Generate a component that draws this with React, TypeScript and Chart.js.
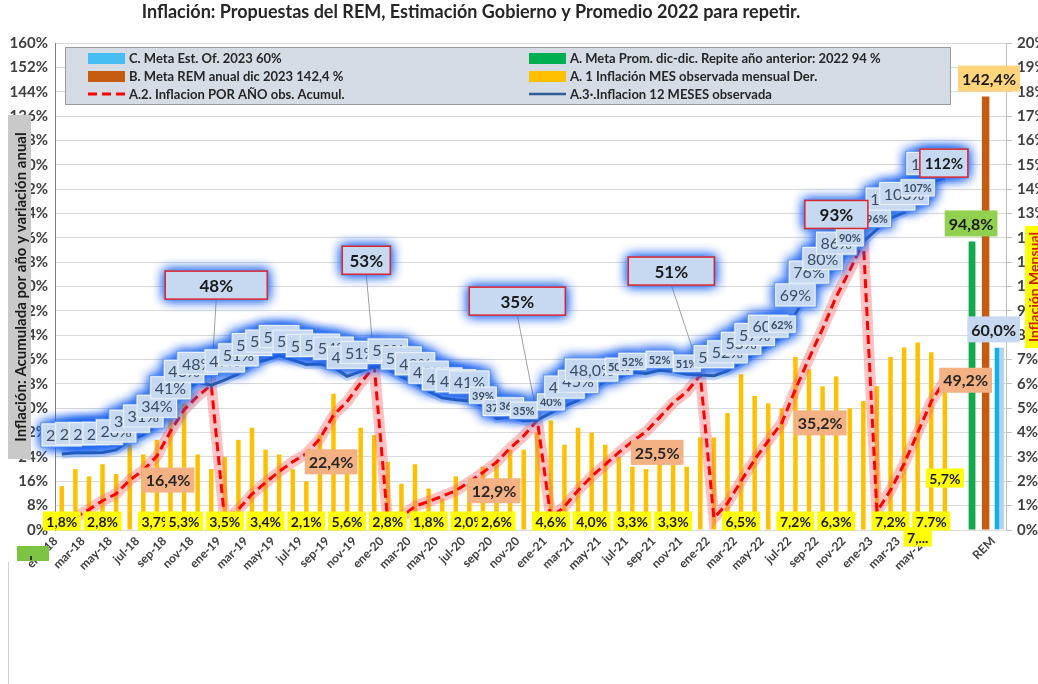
import React, { useEffect, useRef } from 'react';
import { Chart, registerables } from 'chart.js';

Chart.register(...registerables);

const FONT = 'Lato, "Open Sans", sans-serif';

// ---- categories ----
const monthAbbr = ['ene', 'feb', 'mar', 'abr', 'may', 'jun', 'jul', 'ago', 'sep', 'oct', 'nov', 'dic'];
const yearSuffix = ['18', '19', '20', '21', '22', '23'];
const lastMonth = 'jun-23';
const extraCategories = ['', '', '', 'REM'];

// ---- series ----
// A.1 monthly inflation (right axis)
const mensual = [
  1.8, 2.5, 2.2, 2.7, 2.3, 3.5, 3.1, 3.7, 6.5, 5.2, 3.1, 2.5,
  3.0, 3.7, 4.2, 3.3, 3.1, 2.5, 2.0, 3.9, 5.6, 3.3, 4.2, 3.9,
  2.8, 1.9, 2.7, 1.7, 1.3, 2.2, 1.9, 2.6, 2.8, 3.3, 3.3, 4.0,
  4.5, 3.5, 4.2, 4.0, 3.5, 3.0, 2.6, 2.5, 3.5, 3.5, 2.6, 3.8,
  3.8, 4.8, 6.4, 5.5, 5.2, 5.0, 7.1, 6.6, 5.9, 6.3, 5.0, 5.3,
  5.9, 7.1, 7.5, 7.7, 7.3, 5.7,
];
// A.2 accumulated in the year
const acumulado = [
  1.8, 4.2, 6.7, 9.6, 11.9, 16.4, 19.6, 24.3, 32.4, 39.5, 44.0, 47.6,
  2.9, 6.8, 11.8, 15.6, 19.2, 22.4, 25.1, 30.0, 37.7, 42.2, 48.3, 53.8,
  2.3, 4.3, 7.8, 9.4, 11.1, 12.9, 15.8, 18.9, 22.3, 26.9, 30.9, 36.1,
  4.0, 7.7, 13.0, 17.6, 21.5, 25.5, 29.1, 32.3, 37.0, 41.8, 45.4, 50.9,
  3.9, 8.8, 16.1, 23.1, 29.3, 35.2, 46.2, 56.4, 66.1, 76.6, 85.3, 94.8,
  6.0, 13.1, 21.7, 32.0, 42.2, 49.2,
];
// A.3 12-month inflation
const interanual = [
  25.0, 25.4, 25.4, 25.5, 26.3, 29.5, 31.2, 34.4, 40.5, 45.9, 48.5, 47.6,
  49.3, 51.3, 54.7, 55.8, 57.3, 55.8, 54.4, 54.5, 53.5, 50.5, 52.1, 53.8,
  52.9, 50.3, 48.4, 45.6, 43.4, 42.8, 42.4, 40.7, 36.6, 37.2, 35.8, 36.1,
  38.5, 40.7, 42.6, 46.3, 48.8, 50.2, 51.8, 51.4, 52.5, 52.1, 51.2, 50.9,
  50.7, 52.3, 55.1, 58.0, 60.7, 64.0, 71.0, 78.5, 83.0, 88.0, 92.4, 94.8,
  98.8, 102.5, 104.3, 108.8, 114.2, 115.6,
];
const metaPromedio = 94.8;
const metaREM = 142.4;
const metaGobierno = 60.0;

// ---- label texts ----
const blueLabels = [
  '25%', '25%', '25%', '26%', '26%', '30%', '31%', '34%', '41%', '46%', '48%', '',
  '49%', '51%', '55%', '56%', '57%', '56%', '54%', '55%', '54%', '49%', '51%', '',
  '53%', '50%', '48%', '45%', '43%', '43%', '41%', '39%', '37%', '36%', '35%', '',
  '40%', '41%', '45%', '48,0%', '', '50%', '52%', '', '52%', '', '51%', '',
  '50%', '52%', '55%', '57%', '60%', '62%', '69%', '76%', '80%', '86%', '90%', '',
  '96%', '101%', '103%', '107%', '111%', '',
];
const smallBlueLabelIdx = [31, 32, 33, 34, 36, 41, 42, 44, 46, 53, 58, 60, 63];
const calloutIdx = [11, 23, 35, 47, 59, 65];
const calloutText = ['48%', '53%', '35%', '51%', '93%', '112%'];
const accumLabelIdx = [5, 17, 29, 41, 53, 65];
const monthlyLabelIdx = [0, 3, 7, 9, 12, 15, 18, 21, 24, 27, 30, 32, 36, 39, 42, 45, 50, 54, 57, 61, 64];
const monthlyLabelText = ['1,8%', '2,8%', '3,7%', '5,3%', '3,5%', '3,4%', '2,1%', '5,6%', '2,8%', '1,8%', '2,0%', '2,6%', '4,6%', '4,0%', '3,3%', '3,3%', '6,5%', '7,2%', '6,3%', '7,2%', '7,7%'];

const titleText = 'Inflación: Propuestas del REM, Estimación Gobierno y Promedio 2022 para repetir.';
const leftTitle = 'Inflación: Acumulada por año y variación anual';
const rightTitle = 'Inflación Mensual';
const legendLeft = [
  { kind: 'rect', color: '#45bdf2', text: 'C. Meta Est. Of. 2023 60%' },
  { kind: 'rect', color: '#c55a11', text: 'B. Meta REM anual dic 2023 142,4 %' },
  { kind: 'dash', color: '#ff0000', text: 'A.2. Inflacion POR AÑO obs. Acumul.' },
];
const legendRight = [
  { kind: 'rect', color: '#00b050', text: 'A. Meta Prom. dic-dic. Repite año anterior: 2022 94 %' },
  { kind: 'rect', color: '#ffc000', text: 'A. 1 Inflación MES observada mensual Der.' },
  { kind: 'line', color: '#2e5c99', text: 'A.3·.Inflacion 12 MESES observada' },
];

// ---- build categories / padded data ----
const monthLabels: string[] = [];
yearSuffix.forEach((y) => monthAbbr.forEach((m) => monthLabels.push(`${m}-${y}`)));
const months = monthLabels.slice(0, monthLabels.indexOf(lastMonth) + 1);
const categories = [...months, ...extraCategories];
const pad = (arr: number[]) => categories.map((_, i) => (i < arr.length ? arr[i] : null));
const single = (slot: number, v: number) => categories.map((_, i) => (i === slot ? v : null));
const slotPromedio = months.length + 1;
const slotREM = months.length + 2;
const slotGobierno = months.length + 3;

const fmt = (v: number) => v.toFixed(1).replace('.', ',') + '%';

function fillBox(ctx: CanvasRenderingContext2D, cx: number, cy: number, w: number, h: number, fill: string) {
  ctx.fillStyle = fill;
  ctx.fillRect(cx - w / 2, cy - h / 2, w, h);
}

const overlayPlugin = {
  id: 'overlay',
  afterDatasetsDraw(chart: any) {
    const { ctx, scales } = chart;
    const x = scales.x, y = scales.y, y2 = scales.y2;
    const px = (i: number) => x.getPixelForValue(i);
    const py = (v: number) => y.getPixelForValue(v);
    ctx.save();
    ctx.textAlign = 'center';
    ctx.textBaseline = 'middle';

    // accumulated labels (salmon, right of point)
    ctx.font = `bold 16px ${FONT}`;
    accumLabelIdx.forEach((i) => {
      const t = fmt(acumulado[i]);
      const w = ctx.measureText(t).width + 8;
      const h = 25;
      let left = px(i) + 12;
      if (left + w > 992) left = 992 - w;
      const cy = py(acumulado[i]);
      ctx.fillStyle = '#f4b183';
      ctx.fillRect(left, cy - h / 2, w, h);
      ctx.fillStyle = '#262626';
      ctx.fillText(t, left + w / 2, cy + 1);
    });

    // callout geometry
    const calloutStyle = [
      { dx: 5, dy: -100, w: 102, f: 17 },
      { dx: -8, dy: -106, w: 48, f: 17 },
      { dx: -20, dy: -119, w: 96, f: 17 },
      { dx: -29, dy: -104, w: 86, f: 17 },
      { dx: -27, dy: -27, w: 63, f: 17 },
      { dx: -1, dy: -15, w: 48, f: 15 },
    ];
    const callouts = calloutIdx.map((i, k) => {
      const s = calloutStyle[k];
      const ptx = px(i), pty = py(interanual[i]);
      return { ptx, pty, cx: ptx + s.dx, cy: pty + s.dy, w: s.w, h: 28, f: s.f, t: calloutText[k], lead: s.dy < -50 };
    });
    // leader lines
    ctx.strokeStyle = '#a0a0a0';
    ctx.lineWidth = 1;
    callouts.forEach((c) => {
      if (!c.lead) return;
      ctx.beginPath();
      ctx.moveTo(c.cx, c.cy + c.h / 2);
      ctx.lineTo(c.ptx, c.pty - 3);
      ctx.stroke();
    });

    // blue labels
    const labels = blueLabels
      .map((t, i) => {
        if (!t) return null;
        const small = smallBlueLabelIdx.includes(i);
        const font = small ? `bold 11px ${FONT}` : `16px ${FONT}`;
        ctx.font = font;
        const w = ctx.measureText(t).width + (small ? 6 : 9);
        const h = small ? 17 : 23;
        return { t, font, w, h, cx: px(i), cy: py(interanual[i]) - (small ? 11 : 19) };
      })
      .filter(Boolean) as any[];
    // glow pass
    ctx.save();
    ctx.shadowColor = 'rgba(30,100,240,1)';
    ctx.shadowBlur = 12;
    ctx.fillStyle = 'rgba(110,160,240,0.9)';
    for (let r = 0; r < 2; r++) {
      labels.forEach((l) => ctx.fillRect(l.cx - l.w / 2 - 1, l.cy - l.h / 2 - 1, l.w + 2, l.h + 2));
      callouts.forEach((c) => ctx.fillRect(c.cx - c.w / 2 - 1, c.cy - c.h / 2 - 1, c.w + 2, c.h + 2));
    }
    ctx.restore();
    // boxes + texts
    labels.forEach((l) => {
      fillBox(ctx, l.cx, l.cy, l.w, l.h, '#c6d9f0');
      ctx.strokeStyle = 'rgba(255,255,255,0.7)';
      ctx.strokeRect(l.cx - l.w / 2 + 0.5, l.cy - l.h / 2 + 0.5, l.w - 1, l.h - 1);
      ctx.font = l.font;
      ctx.fillStyle = '#3b4d63';
      ctx.fillText(l.t, l.cx, l.cy + 1);
    });
    // callout boxes
    callouts.forEach((c) => {
      fillBox(ctx, c.cx, c.cy, c.w, c.h, '#c6d9f0');
      ctx.strokeStyle = '#d9262e';
      ctx.lineWidth = 1.5;
      ctx.strokeRect(c.cx - c.w / 2, c.cy - c.h / 2, c.w, c.h);
      ctx.font = `bold ${c.f}px ${FONT}`;
      ctx.fillStyle = '#1a1a1a';
      ctx.fillText(c.t, c.cx, c.cy + 1);
    });

    // monthly labels (yellow, inside base)
    const base = y2.getPixelForValue(0);
    ctx.font = `bold 14px ${FONT}`;
    const drawYellow = (i: number, t: string, cy: number) => {
      const w = ctx.measureText(t).width + 7;
      fillBox(ctx, px(i), cy, w, 19, '#ffff00');
      ctx.fillStyle = '#1a1a1a';
      ctx.fillText(t, px(i), cy + 1);
    };
    monthlyLabelIdx.forEach((i, k) => drawYellow(i, monthlyLabelText[k], base - 9));
    drawYellow(months.length - 3, '7,...', base + 7);
    drawYellow(months.length - 1, fmt(mensual[months.length - 1]), base - 52);

    // REM labels
    ctx.font = `bold 16px ${FONT}`;
    const remLabel = (slot: number, v: number, fill: string, dx: number) => {
      const t = fmt(v);
      const w = ctx.measureText(t).width + 8;
      let cx = px(slot) + dx;
      if (cx + w / 2 > 1020) cx = 1020 - w / 2;
      const cy = py(v) - 18;
      fillBox(ctx, cx, cy, w, 26, fill);
      ctx.fillStyle = '#1a1a1a';
      ctx.fillText(t, cx, cy + 1);
    };
    remLabel(slotREM, metaREM, '#ffd47a', 4);
    remLabel(slotPromedio, metaPromedio, '#92d050', -1);
    remLabel(slotGobierno, metaGobierno, '#c6d9f0', -5);
    ctx.restore();
  },
  afterDraw(chart: any) {
    const { ctx } = chart;
    ctx.save();
    ctx.textBaseline = 'middle';
    // title
    ctx.font = `bold 18px ${FONT}`;
    ctx.fillStyle = '#262626';
    ctx.textAlign = 'center';
    ctx.fillText(titleText, 471, 12);

    // legend
    ctx.fillStyle = '#d6dce5';
    ctx.fillRect(65, 47, 885, 57);
    ctx.strokeStyle = '#9a9a9a';
    ctx.lineWidth = 1;
    ctx.strokeRect(65.5, 47.5, 885, 57);
    ctx.font = `bold 13px ${FONT}`;
    ctx.textAlign = 'left';
    const rows = [58, 76, 94];
    const drawItem = (it: any, sx: number, yy: number) => {
      if (it.kind === 'rect') {
        ctx.fillStyle = it.color;
        ctx.fillRect(sx, yy - 5, 37, 11);
      } else if (it.kind === 'dash') {
        ctx.strokeStyle = it.color;
        ctx.lineWidth = 3;
        ctx.setLineDash([9, 5]);
        ctx.beginPath();
        ctx.moveTo(sx, yy);
        ctx.lineTo(sx + 37, yy);
        ctx.stroke();
        ctx.setLineDash([]);
      } else {
        ctx.strokeStyle = it.color;
        ctx.lineWidth = 2.5;
        ctx.beginPath();
        ctx.moveTo(sx, yy);
        ctx.lineTo(sx + 37, yy);
        ctx.stroke();
      }
      ctx.fillStyle = '#262626';
      ctx.fillText(it.text, sx + 41, yy + 1);
    };
    legendLeft.forEach((it, k) => drawItem(it, 88, rows[k]));
    legendRight.forEach((it, k) => drawItem(it, 529, rows[k]));

    // left axis title
    ctx.fillStyle = '#c9c9c9';
    ctx.fillRect(8, 115, 23, 344);
    ctx.save();
    ctx.translate(20, 287);
    ctx.rotate(-Math.PI / 2);
    ctx.textAlign = 'center';
    ctx.font = `bold 15px ${FONT}`;
    ctx.fillStyle = '#1a1a1a';
    ctx.fillText(leftTitle, 0, 1);
    ctx.restore();

    // right axis title
    ctx.fillStyle = '#ffff00';
    ctx.fillRect(1025, 226, 16, 122);
    ctx.save();
    ctx.translate(1033, 287);
    ctx.rotate(-Math.PI / 2);
    ctx.textAlign = 'center';
    ctx.font = `bold 14px ${FONT}`;
    ctx.fillStyle = '#d02010';
    ctx.fillText(rightTitle, 0, 1);
    ctx.restore();

    // small green marker bottom-left
    ctx.fillStyle = '#7cc243';
    ctx.fillRect(17, 546, 32, 15);
    ctx.fillStyle = '#333';
    ctx.fillRect(30, 556, 2, 4);

    // frame line
    ctx.strokeStyle = '#d0d0d0';
    ctx.lineWidth = 1;
    ctx.beginPath();
    ctx.moveTo(8.5, 562);
    ctx.lineTo(8.5, 684);
    ctx.stroke();
    ctx.restore();
  },
};

export default function App() {
  const ref = useRef<HTMLCanvasElement>(null);
  useEffect(() => {
    const chart = new Chart(ref.current as HTMLCanvasElement, {
      type: 'bar',
      data: {
        labels: categories,
        datasets: [
          { type: 'bar', label: 'A. 1 Inflación MES observada mensual Der.', data: pad(mensual), yAxisID: 'y2', backgroundColor: '#ffc000', barPercentage: 0.33, categoryPercentage: 1, grouped: false, order: 8 } as any,
          { type: 'bar', label: 'A. Meta Prom.', data: single(slotPromedio, metaPromedio), yAxisID: 'y', backgroundColor: '#13a84a', barPercentage: 0.5, categoryPercentage: 1, grouped: false, order: 8 } as any,
          { type: 'bar', label: 'B. Meta REM', data: single(slotREM, metaREM), yAxisID: 'y', backgroundColor: '#c55a11', barPercentage: 0.55, categoryPercentage: 1, grouped: false, order: 8 } as any,
          { type: 'bar', label: 'C. Meta Est. Of.', data: single(slotGobierno, metaGobierno), yAxisID: 'y', backgroundColor: '#12aef0', borderColor: 'rgba(170,205,245,0.9)', borderWidth: { left: 0, right: 5, top: 0, bottom: 0 }, barPercentage: 0.7, categoryPercentage: 1, grouped: false, order: 8 } as any,
          { type: 'line', label: 'glow-red', data: pad(acumulado), yAxisID: 'y', borderColor: 'rgba(255,110,110,0.42)', borderWidth: 11, pointRadius: 0, tension: 0, order: 5 } as any,
          { type: 'line', label: 'A.2', data: pad(acumulado), yAxisID: 'y', borderColor: '#ff0000', borderWidth: 3, borderDash: [9, 5], pointRadius: 0, tension: 0, order: 4 } as any,
          { type: 'line', label: 'glow-blue', data: pad(interanual), yAxisID: 'y', borderColor: 'rgba(100,155,240,0.35)', borderWidth: 9, pointRadius: 0, tension: 0, order: 3 } as any,
          { type: 'line', label: 'A.3', data: pad(interanual), yAxisID: 'y', borderColor: '#2e5c99', borderWidth: 3, pointRadius: 0, tension: 0, order: 2 } as any,
        ],
      },
      options: {
        responsive: false,
        animation: false,
        devicePixelRatio: 1,
        layout: { padding: { top: 43, left: 0, right: 0, bottom: 0 } },
        plugins: { legend: { display: false }, tooltip: { enabled: false }, title: { display: false } },
        scales: {
          x: {
            type: 'category',
            grid: { display: false, drawTicks: false },
            border: { display: true, color: '#d9d9d9' },
            ticks: {
              autoSkip: false,
              minRotation: 45,
              maxRotation: 45,
              padding: 4,
              labelOffset: -6,
              font: { family: FONT, weight: 'bold', size: 12 },
              color: '#404040',
              callback: (_v: any, i: number) => {
                const lab = categories[i];
                return lab === 'REM' || (i % 2 === 0 && i < months.length) ? lab : '';
              },
            },
            afterFit: (s: any) => { s.height = 154; },
          },
          y: {
            position: 'left',
            min: 0,
            max: 160,
            ticks: { stepSize: 8, padding: 7, font: { family: FONT, weight: 'bold', size: 15 }, color: '#404040', callback: (v: any) => v + '%' },
            grid: { color: '#d9d9d9', drawTicks: false },
            border: { color: '#808080' },
            afterFit: (s: any) => { s.width = 55; },
          },
          y2: {
            position: 'right',
            min: 0,
            max: 20,
            ticks: { stepSize: 1, padding: 5, font: { family: FONT, weight: 'bold', size: 15 }, color: '#404040', callback: (v: any) => v + '%' },
            grid: { drawOnChartArea: false, drawTicks: true, tickLength: 6, color: '#bfbfbf' },
            border: { color: '#bfbfbf' },
            afterFit: (s: any) => { s.width = 32; },
          },
        },
      } as any,
      plugins: [overlayPlugin],
    });
    return () => chart.destroy();
  }, []);
  return (
    <div style={{ position: 'fixed', left: 0, top: 0, width: 1038, height: 684, background: '#ffffff' }}>
      <canvas ref={ref} width={1038} height={684} style={{ width: 1038, height: 684, display: 'block' }} />
    </div>
  );
}
